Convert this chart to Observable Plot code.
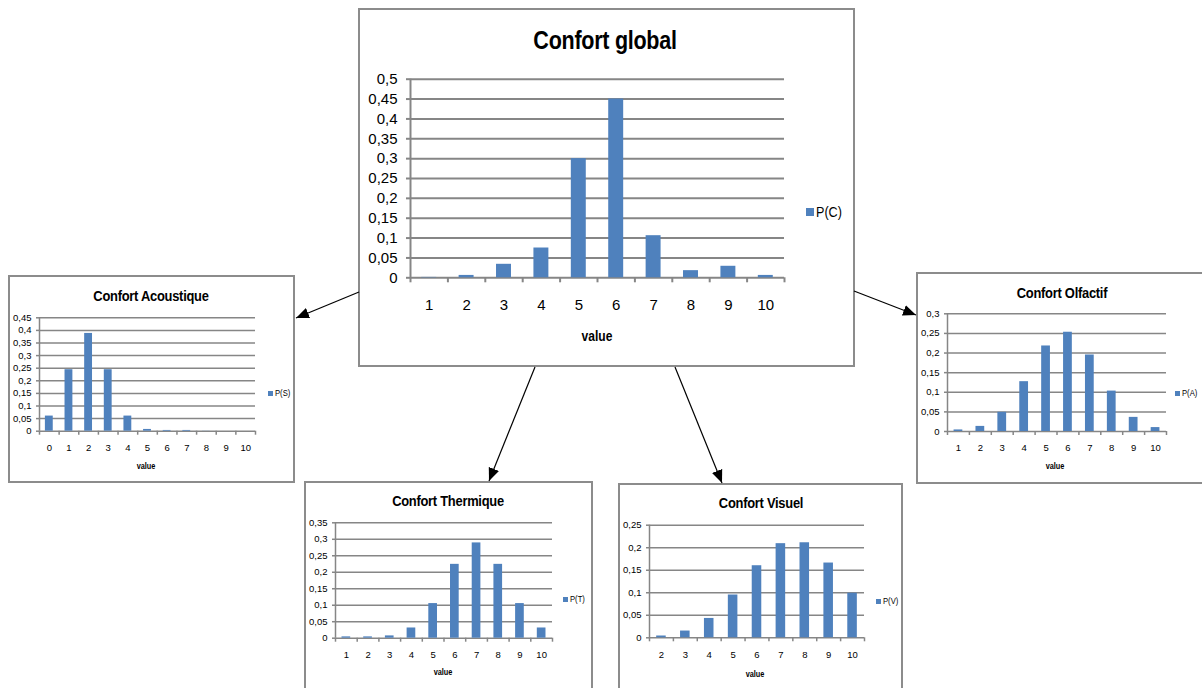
<!DOCTYPE html>
<html><head><meta charset="utf-8">
<script src="https://cdn.jsdelivr.net/npm/d3@7"></script>
<script src="https://cdn.jsdelivr.net/npm/@observablehq/plot@0.6"></script>
<style>
body{margin:0;background:#fff;}
#stage{position:relative;width:1202px;height:688px;overflow:hidden;background:#fff;font-family:"Liberation Sans",Arial,sans-serif;}
.box{position:absolute;box-sizing:border-box;border:2px solid #8c8c8c;background:#fff;}
.plot{position:absolute;}
.t{position:absolute;transform:translate(-50%,-50%) scaleX(0.86);white-space:nowrap;font-weight:bold;color:#000;line-height:1;}
.lg{position:absolute;white-space:nowrap;color:#000;line-height:1;transform:translateY(-50%) scaleX(0.9);transform-origin:left center;}
.sq{position:absolute;background:#4f81bd;}
</style></head><body><div id="stage"></div>
<script>
// ---- data ----
const axisLabel = "value";

const globalTitle = "Confort global";
const globalSeries = "P(C)";
const globalCats = [1, 2, 3, 4, 5, 6, 7, 8, 9, 10];
const globalP = [0.001, 0.006, 0.034, 0.075, 0.300, 0.450, 0.106, 0.018, 0.029, 0.006];
const globalTicks = [0, 0.05, 0.1, 0.15, 0.2, 0.25, 0.3, 0.35, 0.4, 0.45, 0.5];

const acousTitle = "Confort Acoustique";
const acousSeries = "P(S)";
const acousCats = [0, 1, 2, 3, 4, 5, 6, 7, 8, 9, 10];
const acousP = [0.060, 0.244, 0.388, 0.244, 0.060, 0.007, 0.003, 0.003, 0.0005, 0, 0];
const acousTicks = [0, 0.05, 0.1, 0.15, 0.2, 0.25, 0.3, 0.35, 0.4, 0.45];

const olfTitle = "Confort Olfactif";
const olfSeries = "P(A)";
const olfCats = [1, 2, 3, 4, 5, 6, 7, 8, 9, 10];
const olfP = [0.004, 0.013, 0.049, 0.127, 0.218, 0.253, 0.195, 0.103, 0.036, 0.010];
const olfTicks = [0, 0.05, 0.1, 0.15, 0.2, 0.25, 0.3];

const thermTitle = "Confort Thermique";
const thermSeries = "P(T)";
const thermCats = [1, 2, 3, 4, 5, 6, 7, 8, 9, 10];
const thermP = [0.004, 0.004, 0.007, 0.031, 0.105, 0.224, 0.289, 0.224, 0.105, 0.031];
const thermTicks = [0, 0.05, 0.1, 0.15, 0.2, 0.25, 0.3, 0.35];

const visTitle = "Confort Visuel";
const visSeries = "P(V)";
const visCats = [2, 3, 4, 5, 6, 7, 8, 9, 10];
const visP = [0.004, 0.015, 0.043, 0.095, 0.160, 0.209, 0.211, 0.166, 0.099];
const visTicks = [0, 0.05, 0.1, 0.15, 0.2, 0.25];

// ---- layout (positions only) ----
const big = {fs: 15, ts: 4, tp: 9, xp: 22, gw: 2, titleFs: 25, valFs: 14, lgFs: 14, sq: 8};
const small = {fs: 9.5, ts: 3, tp: 5, xp: 13, gw: 1.5, titleFs: 15, valFs: 8.5, lgFs: 8.5, sq: 5};

const charts = [
  {title: globalTitle, series: globalSeries, cats: globalCats, vals: globalP, ticks: globalTicks, st: big,
   box: [358, 8, 855, 367], ax: 410, gx: 784, gy: 78.7, zy: 277.3,
   tpos: [605, 40], vpos: [597, 336], lpos: [806, 212]},
  {title: acousTitle, series: acousSeries, cats: acousCats, vals: acousP, ticks: acousTicks, st: small,
   box: [8, 275, 295, 483], ax: 39, gx: 255, gy: 317.3, zy: 430.7,
   tpos: [151, 295], vpos: [146, 466], lpos: [268, 393]},
  {title: olfTitle, series: olfSeries, cats: olfCats, vals: olfP, ticks: olfTicks, st: small,
   box: [916, 272, 1206, 484], ax: 947, gx: 1166, gy: 313.3, zy: 431,
   tpos: [1062, 292], vpos: [1055, 466], lpos: [1175, 393]},
  {title: thermTitle, series: thermSeries, cats: thermCats, vals: thermP, ticks: thermTicks, st: small,
   box: [304, 481, 593, 700], ax: 335, gx: 552, gy: 522.3, zy: 637.7,
   tpos: [448, 500], vpos: [443, 672], lpos: [563, 599]},
  {title: visTitle, series: visSeries, cats: visCats, vals: visP, ticks: visTicks, st: small,
   box: [618, 483, 903, 700], ax: 649, gx: 864, gy: 524.7, zy: 637.3,
   tpos: [761, 502], vpos: [755, 674], lpos: [876, 601]}
];

const arrows = [
  [359, 292, 296, 318],
  [854, 291, 916, 315],
  [535, 367, 489, 481],
  [675, 367, 722, 483]
];

const stage = document.getElementById("stage");
const grid = "#868686";
const fmt = d => String(+d.toFixed(2)).replace(".", ",");

function el(cls, css, text) {
  const e = document.createElement("div");
  e.className = cls;
  Object.assign(e.style, css);
  if (text != null) e.textContent = text;
  stage.append(e);
  return e;
}

for (const c of charts) {
  const [L, T, R, B] = c.box;
  const st = c.st;
  el("box", {left: L + "px", top: T + "px", width: (R - L) + "px", height: (B - T) + "px"});
  const data = c.cats.map((k, i) => ({k, p: c.vals[i]}));
  const lo = c.cats[0] - 0.5, hi = c.cats[c.cats.length - 1] + 0.5;
  const bounds = d3.range(c.cats.length + 1).map(i => lo + i);
  const svg = Plot.plot({
    width: R - L, height: B - T,
    marginLeft: c.ax - L, marginRight: R - c.gx, marginTop: c.gy - T, marginBottom: B - c.zy,
    x: {domain: [lo, hi]},
    y: {domain: [0, c.ticks[c.ticks.length - 1]]},
    style: {fontFamily: '"Liberation Sans",Arial,sans-serif', fontSize: st.fs + "px", background: "transparent", overflow: "visible"},
    marks: [
      Plot.ruleY(c.ticks, {stroke: grid, strokeWidth: st.gw}),
      Plot.ruleX([lo], {stroke: grid, strokeWidth: st.gw}),
      Plot.axisY({ticks: c.ticks, tickFormat: fmt, tickSize: st.ts, tickPadding: st.tp, stroke: grid, strokeWidth: st.gw, fill: "#000", label: null}),
      Plot.axisX({ticks: bounds, tickFormat: () => "", tickSize: st.ts + 1, stroke: grid, strokeWidth: st.gw, label: null}),
      Plot.axisX({ticks: c.cats, tickFormat: d => String(d), tickSize: 0, tickPadding: st.xp, fill: "#000", label: null}),
      Plot.rect(data, {x1: d => d.k - 0.2, x2: d => d.k + 0.2, y1: 0, y2: "p", fill: "#4f81bd"})
    ]
  });
  svg.classList.add("plot");
  svg.style.left = L + "px";
  svg.style.top = T + "px";
  stage.append(svg);
  el("t", {left: c.tpos[0] + "px", top: c.tpos[1] + "px", fontSize: st.titleFs + "px", letterSpacing: "-0.3px"}, c.title);
  el("t", {left: c.vpos[0] + "px", top: c.vpos[1] + "px", fontSize: st.valFs + "px"}, axisLabel);
  el("sq", {left: c.lpos[0] + "px", top: (c.lpos[1] - st.sq / 2) + "px", width: st.sq + "px", height: st.sq + "px"});
  el("lg", {left: (c.lpos[0] + st.sq + 2) + "px", top: c.lpos[1] + "px", fontSize: st.lgFs + "px"}, c.series);
}

// arrows overlay
const ns = "http://www.w3.org/2000/svg";
const ov = document.createElementNS(ns, "svg");
ov.setAttribute("width", 1202); ov.setAttribute("height", 688);
ov.style.position = "absolute"; ov.style.left = "0"; ov.style.top = "0";
ov.innerHTML = '<defs><marker id="ah" viewBox="0 0 10 10" refX="10" refY="5" markerWidth="13" markerHeight="13" markerUnits="userSpaceOnUse" orient="auto"><path d="M0,0.8L10,5L0,9.2z" fill="#000"/></marker></defs>';
for (const [x1, y1, x2, y2] of arrows) {
  const l = document.createElementNS(ns, "line");
  l.setAttribute("x1", x1); l.setAttribute("y1", y1);
  l.setAttribute("x2", x2); l.setAttribute("y2", y2);
  l.setAttribute("stroke", "#000"); l.setAttribute("stroke-width", "1.2");
  l.setAttribute("marker-end", "url(#ah)");
  ov.append(l);
}
stage.append(ov);
</script>
</body></html>
